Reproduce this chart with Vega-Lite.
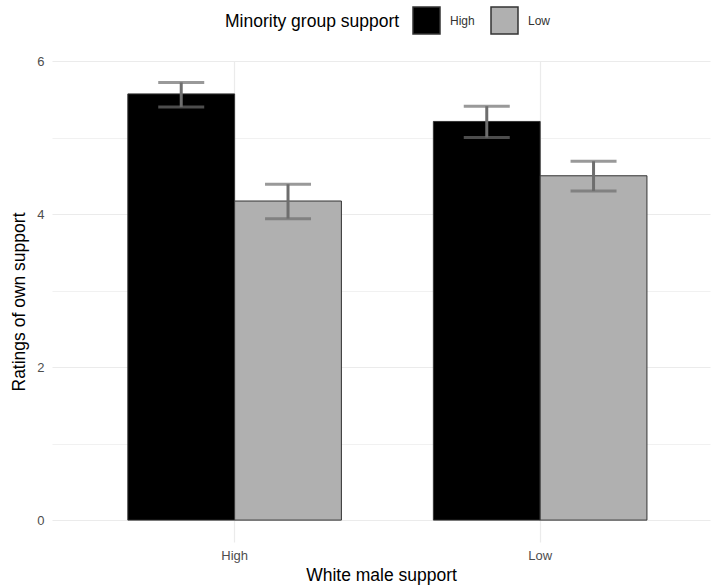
{
  "$schema": "https://vega.github.io/schema/vega-lite/v6.json",
  "width": 658,
  "height": 481,
  "autosize": {"type": "none"},
  "padding": {"left": 52, "top": 61, "right": 1, "bottom": 46},
  "background": "white",
  "config": {
    "view": {"stroke": null},
    "font": "Liberation Sans",
    "axis": {
      "domain": false,
      "ticks": false,
      "gridColor": "#EBEBEB",
      "gridWidth": 1.2,
      "labelColor": "#4D4D4D",
      "labelFontSize": 13,
      "labelFont": "Liberation Sans",
      "titleFont": "Liberation Sans",
      "titleFontSize": 17.5,
      "titleFontWeight": "normal",
      "titleColor": "#000000"
    }
  },
  "data": {
    "values": [
      {"white": "High", "minority": "High", "mean": 5.57, "lo": 5.40, "hi": 5.72},
      {"white": "High", "minority": "Low", "mean": 4.17, "lo": 3.94, "hi": 4.39},
      {"white": "Low", "minority": "High", "mean": 5.21, "lo": 5.00, "hi": 5.41},
      {"white": "Low", "minority": "Low", "mean": 4.50, "lo": 4.30, "hi": 4.69}
    ]
  },
  "encoding": {
    "x": {
      "field": "white",
      "type": "nominal",
      "sort": ["High", "Low"],
      "scale": {"type": "band", "paddingInner": 0.301, "paddingOuter": 0.2273, "align": 0.546},
      "axis": {
        "title": "White male support",
        "labelAngle": 0,
        "grid": true,
        "bandPosition": 0.5,
        "labelPadding": 7,
        "titlePadding": 4
      }
    },
    "xOffset": {
      "field": "minority",
      "type": "nominal",
      "sort": ["High", "Low"],
      "scale": {"paddingInner": 0, "paddingOuter": 0}
    }
  },
  "layer": [
    {
      "mark": {"type": "rule", "opacity": 0},
      "encoding": {
        "y": {
          "field": "mean",
          "type": "quantitative",
          "scale": {"domain": [-0.286, 6.0], "nice": false, "zero": false},
          "axis": {
            "orient": "left",
            "values": [1, 3, 5],
            "labels": false,
            "title": null,
            "grid": true,
            "gridWidth": 0.7
          }
        }
      }
    },
    {
      "mark": {"type": "bar", "stroke": "#333333", "strokeWidth": 1},
      "encoding": {
        "y": {
          "field": "mean",
          "type": "quantitative",
          "stack": null,
          "axis": {
            "orient": "left",
            "values": [0, 2, 4, 6],
            "title": "Ratings of own support",
            "grid": true,
            "labelPadding": 8,
            "titlePadding": 8
          }
        },
        "y2": {"datum": 0},
        "fill": {
          "field": "minority",
          "type": "nominal",
          "sort": ["High", "Low"],
          "scale": {"domain": ["High", "Low"], "range": ["#000000", "#B0B0B0"]},
          "legend": {
            "title": "Minority group support",
            "orient": "none",
            "legendX": 173,
            "legendY": -55,
            "direction": "horizontal",
            "titleOrient": "left",
            "titleFontSize": 17.5,
            "titleFontWeight": "normal",
            "titleColor": "#000000",
            "titleFont": "Liberation Sans",
            "titlePadding": 12,
            "labelFontSize": 12,
            "labelColor": "#333333",
            "labelFont": "Liberation Sans",
            "symbolType": "square",
            "symbolSize": 729,
            "symbolStrokeColor": "#333333",
            "symbolStrokeWidth": 1.5,
            "symbolOpacity": 1,
            "columnPadding": 13,
            "labelOffset": 9
          }
        }
      }
    },
    {
      "mark": {"type": "rule", "color": "#6E6E6E", "strokeWidth": 3},
      "encoding": {
        "y": {"field": "lo", "type": "quantitative"},
        "y2": {"field": "hi"}
      }
    },
    {
      "mark": {"type": "tick", "color": "#6E6E6E", "thickness": 3, "size": 46, "orient": "horizontal"},
      "encoding": {
        "y": {"field": "lo", "type": "quantitative"}
      }
    },
    {
      "mark": {"type": "tick", "color": "#6E6E6E", "thickness": 3, "size": 46, "orient": "horizontal"},
      "encoding": {
        "y": {"field": "hi", "type": "quantitative"}
      }
    }
  ],
  "resolve": {"axis": {"y": "independent"}}
}
